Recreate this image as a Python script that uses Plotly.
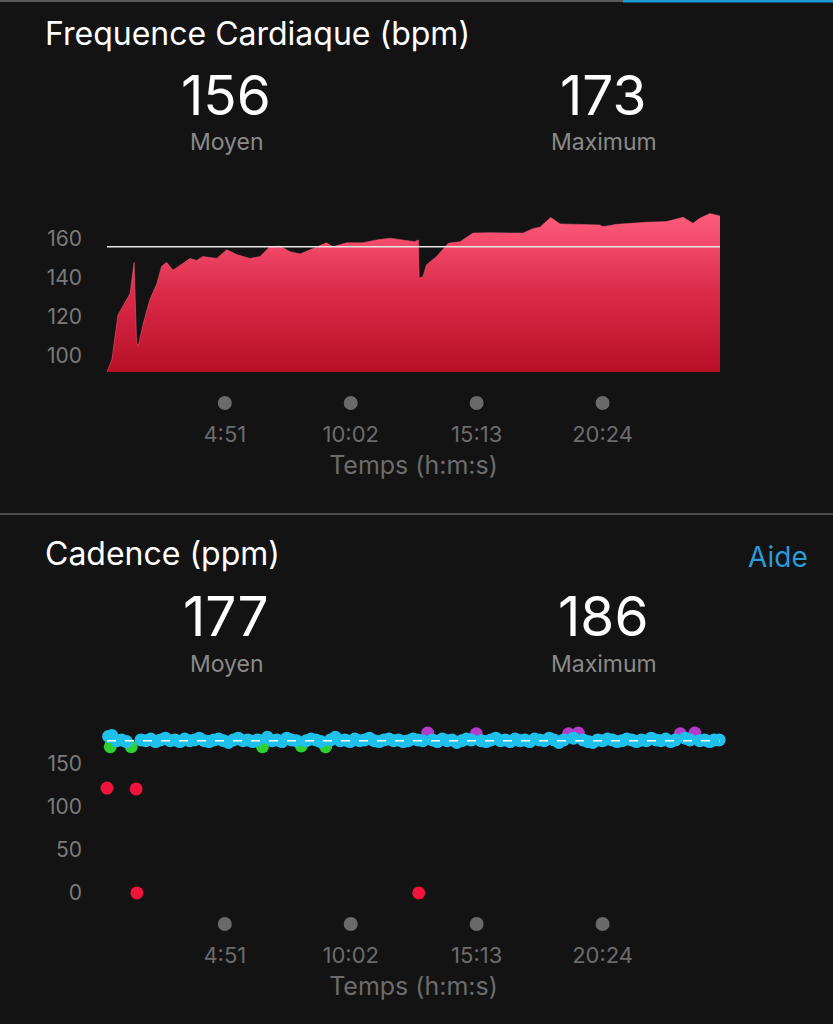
import plotly.graph_objects as go

W, H = 833, 1024

# ---------------- data ----------------
hr_time = [0, 12, 27, 57, 67, 73, 77, 90, 106, 123,
           135, 147, 163, 205, 221, 237, 271, 296, 320, 353,
           378, 402, 427, 452, 477, 501, 542, 558, 592, 632,
           666, 699, 731, 760, 769, 771, 780, 789, 814, 843,
           872, 904, 946, 1003, 1028, 1053, 1069, 1096, 1119, 1217,
           1225, 1259, 1333, 1382, 1423, 1447, 1464, 1489, 1510, 1514]
hr_bpm = [92, 98, 121, 132, 148, 107, 105, 117, 129, 137,
          146, 148, 144, 150, 149, 151, 150, 154.5, 152, 150,
          151, 156, 156.4, 153.5, 152.3, 154.4, 158, 156, 158, 158,
          159.5, 160.4, 159.5, 158.6, 159.5, 140, 140.5, 146.7, 151, 157.8,
          158.6, 163, 163.2, 163, 163, 165.4, 166, 171, 167.7, 167.2,
          166.3, 167.5, 168.6, 168.9, 171.1, 168, 170.6, 173, 171.8, 171.8]
hr_avg, hr_max = 156, 173

cad_time = [0, 4, 8, 12, 24, 36, 48, 60, 72, 74,
            84, 96, 108, 120, 132, 144, 156, 168, 180, 192,
            204, 216, 228, 240, 252, 264, 276, 288, 300, 312,
            324, 336, 348, 360, 372, 384, 396, 408, 420, 432,
            444, 456, 468, 480, 492, 504, 516, 528, 540, 552,
            564, 576, 588, 600, 612, 624, 636, 648, 660, 672,
            684, 696, 708, 720, 732, 744, 756, 768, 770, 780,
            792, 804, 816, 828, 840, 852, 864, 876, 888, 900,
            912, 924, 936, 948, 960, 972, 984, 996, 1008, 1020,
            1032, 1044, 1056, 1068, 1080, 1092, 1104, 1116, 1128, 1140,
            1152, 1164, 1176, 1188, 1200, 1212, 1224, 1236, 1248, 1260,
            1272, 1284, 1296, 1308, 1320, 1332, 1344, 1356, 1368, 1380,
            1392, 1404, 1416, 1428, 1440, 1452, 1464, 1476, 1488, 1500,
            1512]
cad_spm = [122, 182, 170, 183, 177, 178, 176, 170, 121, 0,
           178, 177, 179, 176, 178, 180, 177, 178, 176, 179,
           177, 178, 180, 177, 176, 178, 179, 177, 175, 178,
           180, 177, 178, 176, 178, 170, 181, 177, 178, 176,
           180, 178, 177, 171, 177, 179, 178, 176, 170, 178,
           181, 177, 178, 176, 179, 177, 178, 180, 177, 176,
           178, 179, 177, 178, 176, 177, 179, 178, 0, 177,
           186, 178, 176, 179, 177, 178, 175, 177, 179, 178,
           185, 177, 176, 178, 180, 177, 178, 176, 179, 177,
           178, 176, 179, 178, 177, 180, 178, 175, 178, 185,
           180, 186, 178, 176, 175, 178, 177, 179, 178, 176,
           177, 179, 178, 176, 178, 177, 180, 178, 177, 179,
           176, 178, 185, 180, 178, 186, 177, 178, 176, 178,
           178]
cad_avg, cad_max = 177, 186
assert len(cad_time) == len(cad_spm)
assert len(hr_time) == len(hr_bpm)

tick_secs = [291, 602, 913, 1224]
tick_text = ["4:51", "10:02", "15:13", "20:24"]

hr_yticks = [100, 120, 140, 160]
cad_yticks = [0, 50, 100, 150]

# ---------------- style ----------------
BG = "#131313"
FONT = "Inter, Roboto, 'Liberation Sans', sans-serif"
GRAY_TXT = "#6c6c6c"
YTICK = "#7a7a7a"
DOT = "#6a6a6a"
zones = [  # (min value, colour)
    (184, "#b43cca"),
    (174, "#1fc0ec"),
    (164, "#2fd02f"),
    (153, "#f08a1a"),
    (-1, "#f0143c"),
]
draw_order = ["#f08a1a", "#2fd02f", "#b43cca", "#1fc0ec", "#f0143c"]


def py(p):
    return 1 - p / H


def px(p):
    return p / W


XD = [px(107), px(720)]
XR = [0, 1514]

fig = go.Figure()

# Heart rate area
fig.add_trace(go.Scatter(
    x=hr_time, y=hr_bpm, mode="lines", fill="tozeroy",
    line=dict(color="#ff5d7d", width=0.5, shape="linear"),
    fillgradient=dict(type="vertical",
                      colorscale=[[0, "#b80f27"], [0.5, "#dc2b4a"], [1, "#ff5e7e"]],
                      start=92, stop=174),
    xaxis="x", yaxis="y", hoverinfo="skip", showlegend=False))

# tick dots rows
for xa, ya in (("x2", "y2"), ("x4", "y4")):
    fig.add_trace(go.Scatter(
        x=tick_secs, y=[0.5] * len(tick_secs), mode="markers",
        marker=dict(size=14, color=DOT), xaxis=xa, yaxis=ya,
        hoverinfo="skip", showlegend=False))


def zone_color(v):
    for lo, c in zones:
        if v >= lo:
            return c
    return zones[-1][1]


for col in draw_order:
    xs = [t for t, v in zip(cad_time, cad_spm) if zone_color(v) == col]
    ys = [v for v in cad_spm if zone_color(v) == col]
    if not xs:
        continue
    fig.add_trace(go.Scatter(
        x=xs, y=ys, mode="markers",
        marker=dict(size=13, color=col, line=dict(width=0)),
        xaxis="x3", yaxis="y3", cliponaxis=False,
        hoverinfo="skip", showlegend=False))

axis_common = dict(showgrid=False, zeroline=False, showline=False)
ytick_font = dict(family=FONT, size=21, color=YTICK)
xtick_font = dict(family=FONT, size=22, color=GRAY_TXT)
title_font = dict(family=FONT, size=25, color=GRAY_TXT)

fig.update_layout(
    width=W, height=H, paper_bgcolor=BG, plot_bgcolor=BG,
    margin=dict(l=0, r=0, t=0, b=0), showlegend=False,
    font=dict(family=FONT),
    xaxis=dict(domain=XD, range=XR, showticklabels=False, ticks="", anchor="y", **axis_common),
    yaxis=dict(domain=[py(372), py(205)], range=[91.8, 177.4], tickvals=hr_yticks,
               tickfont=ytick_font, ticks="", ticklabelstandoff=24, anchor="x", **axis_common),
    xaxis2=dict(domain=XD, range=XR, matches="x", anchor="y2", tickvals=tick_secs,
                ticktext=tick_text, tickfont=xtick_font, ticks="", ticklabelstandoff=9,
                title=dict(text="Temps (h:m:s)", font=title_font, standoff=10), **axis_common),
    yaxis2=dict(domain=[py(410), py(396)], range=[0, 1], visible=False, anchor="x2"),
    xaxis3=dict(domain=XD, range=XR, showticklabels=False, ticks="", anchor="y3", **axis_common),
    yaxis3=dict(domain=[py(905), py(725)], range=[-14, 195.3], tickvals=cad_yticks,
                tickfont=ytick_font, ticks="", ticklabelstandoff=24, anchor="x3", **axis_common),
    xaxis4=dict(domain=XD, range=XR, matches="x3", anchor="y4", tickvals=tick_secs,
                ticktext=tick_text, tickfont=xtick_font, ticks="", ticklabelstandoff=9,
                title=dict(text="Temps (h:m:s)", font=title_font, standoff=10), **axis_common),
    yaxis4=dict(domain=[py(931), py(917)], range=[0, 1], visible=False, anchor="x4"),
)

# reference lines (averages)
fig.add_shape(type="line", xref="x", yref="y", x0=XR[0], x1=XR[1], y0=hr_avg, y1=hr_avg,
              line=dict(color="#e6e6e6", width=1.5), layer="above")
fig.add_shape(type="line", xref="x3", yref="y3", x0=XR[0], x1=XR[1], y0=cad_avg, y1=cad_avg,
              line=dict(color="#ffffff", width=1.5, dash="dash"), layer="above")

# decorative lines
fig.add_shape(type="line", xref="paper", yref="paper", x0=0, x1=px(623), y0=py(1), y1=py(1),
              line=dict(color="#5a5a5a", width=2))
fig.add_shape(type="line", xref="paper", yref="paper", x0=px(623), x1=1, y0=py(1), y1=py(1),
              line=dict(color="#1b9ad8", width=3))
fig.add_shape(type="line", xref="paper", yref="paper", x0=0, x1=1, y0=py(514), y1=py(514),
              line=dict(color="#4a4a4a", width=2))


def ann(text, x, y, size, color, xanchor="center"):
    fig.add_annotation(text=text, x=px(x), y=py(y), xref="paper", yref="paper",
                       xanchor=xanchor, yanchor="middle", showarrow=False,
                       borderpad=0,
                       font=dict(family=FONT, size=size, color=color))


ann("Frequence Cardiaque (bpm)", 44, 33, 32, "#ffffff", "left")
ann(str(hr_avg), 226, 95, 55, "#ffffff")
ann(str(hr_max), 603, 95, 55, "#ffffff")
ann("Moyen", 227, 142, 23, "#8a8a8a")
ann("Maximum", 604, 142, 23, "#8a8a8a")

ann("Cadence (ppm)", 44, 553, 32, "#ffffff", "left")
ann("Aide", 809, 557, 28, "#2a9bd6", "right")
ann(str(cad_avg), 226, 616, 55, "#ffffff")
ann(str(cad_max), 603, 616, 55, "#ffffff")
ann("Moyen", 227, 664, 23, "#8a8a8a")
ann("Maximum", 604, 664, 23, "#8a8a8a")

fig.write_html("out.html",
               config={"displayModeBar": False},
               post_script="document.body.style.margin='0';"
                           "document.body.style.background='#131313';")
